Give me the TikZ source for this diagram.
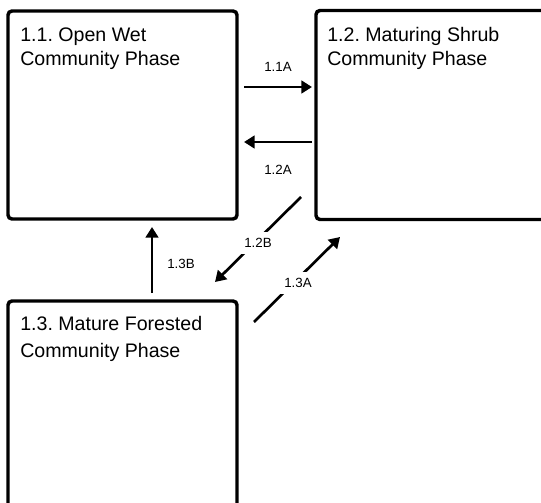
\documentclass[tikz,border=0pt]{standalone}
\usepackage{fontspec}
\setmainfont{Liberation Sans}
\usetikzlibrary{arrows.meta}
\frenchspacing
\begin{document}
\begin{tikzpicture}[x=0.75pt,y=-0.75pt,
  phase/.style={draw=black, line width=2.6pt, rounded corners=3pt, inner sep=0pt},
  phasetext/.style={anchor=north west, inner sep=0pt, align=left},
  trans/.style={line width=2pt, -{Triangle[length=8pt,width=9.5pt]}},
  translabel/.style={font=\fontsize{10pt}{12pt}\selectfont, inner sep=1pt},
  gaplabel/.style={translabel, fill=white, inner sep=5pt}]
\useasboundingbox (0,0) rectangle (541,502);

% community phase boxes
\node[phase, minimum width=229*0.75pt, minimum height=208*0.75pt] (b11) at (122.5,115) {};
\node[phase, minimum width=244*0.75pt, minimum height=209*0.75pt] (b12) at (438,115) {};
\node[phase, minimum width=229*0.75pt, minimum height=219*0.75pt] (b13) at (122.5,410.5) {};

% phase titles
\node[phasetext, font=\fontsize{14.7pt}{18pt}\selectfont] (n11) at (20,27.5) {1.1. Open Wet\\Community Phase};
\node[phasetext, font=\fontsize{14.7pt}{18pt}\selectfont] (n12) at (327,27.5) {1.2. Maturing Shrub\\Community Phase};
\node[phasetext, font=\fontsize{14.7pt}{20pt}\selectfont] (n13) at (20,316.5) {1.3. Mature Forested\\Community Phase};

% transition end points
\coordinate (p11a) at (244,87);  \coordinate (q11a) at (312,87);
\coordinate (p12a) at (312,142); \coordinate (q12a) at (244,142);
\coordinate (p13b) at (152,293); \coordinate (q13b) at (152,227);
\coordinate (p12b) at (301,197); \coordinate (q12b) at (215,282);
\coordinate (p13a) at (254,322); \coordinate (q13a) at (340,237);

% transitions
\draw[trans] (p11a) -- (q11a);
\draw[trans] (p12a) -- (q12a);
\draw[trans] (p13b) -- (q13b);
\draw[trans] (p12b) -- (q12b);
\draw[trans] (p13a) -- (q13a);

% transition labels
\node[translabel] (l11a) at (278,67) {1.1A};
\node[translabel] (l12a) at (278,170) {1.2A};
\node[translabel] (l13b) at (181,264) {1.3B};
\node[gaplabel] (l12b) at (258,243) {1.2B};
\node[gaplabel] (l13a) at (298,283) {1.3A};
\end{tikzpicture}
\end{document}
